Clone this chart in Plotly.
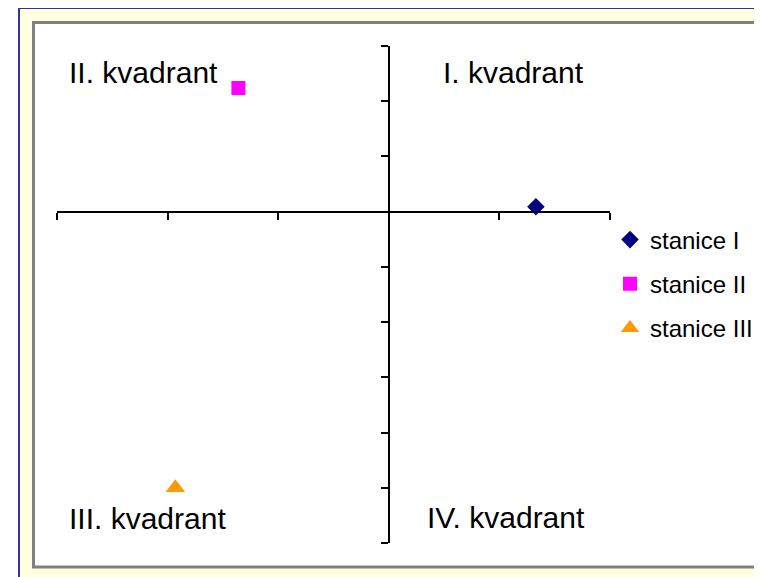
import plotly.graph_objects as go

# ---- data ----
series_names = ["stanice I", "stanice II", "stanice III"]
x_values = [1.33, -1.36, -1.93]
y_values = [0.09, 2.24, -5.0]
marker_symbols = ["diamond", "square", "triangle-up"]
marker_colors = ["#000080", "#FF00FF", "#FF9900"]
marker_sizes = [13.5, 14, 17]

quadrant_labels = ["I. kvadrant", "II. kvadrant", "III. kvadrant", "IV. kvadrant"]

x_range = [-3, 2]
y_range = [-6, 3]

# page is shown with an 8px body margin
OFF = 8
W, H = 762 - OFF, 577 - OFF
ML, MT = 57 - OFF, 46 - OFF
MR = W - (610 - OFF)
MB = H - (543 - OFF)
PW = W - ML - MR
PH = H - MT - MB


def px_x(p):  # page pixel -> paper fraction
    return (p - OFF - ML) / PW


def px_y(p):
    return (MT + PH - (p - OFF)) / PH


fig = go.Figure()
for i, name in enumerate(series_names):
    fig.add_trace(go.Scatter(
        x=[x_values[i]], y=[y_values[i]], mode="markers", name=name,
        legendgroup=name,
        marker=dict(symbol=marker_symbols[i], color=marker_colors[i],
                    size=marker_sizes[i], line=dict(width=0)),
    ))

shapes = [
    dict(type="rect", xref="paper", yref="paper", layer="below",
         x0=px_x(19), x1=px_x(800), y0=px_y(8), y1=px_y(600),
         line=dict(color="#333399", width=2), fillcolor="#FFFFE1"),
    dict(type="rect", xref="paper", yref="paper", layer="below",
         x0=px_x(33.5), x1=px_x(800), y0=px_y(22.5), y1=px_y(567),
         line=dict(color="#808080", width=3), fillcolor="#FFFFFF"),
]

label_pos = [(0.47, 2.52), (-2.91, 2.52), (-2.91, -5.56), (0.325, -5.54)]
annotations = []
for lab, (ax_, ay_) in zip(quadrant_labels, label_pos):
    annotations.append(dict(
        text=lab, x=ax_, y=ay_, xref="x", yref="y", showarrow=False,
        xanchor="left", yanchor="middle",
        font=dict(family="Liberation Sans, Arial, sans-serif", size=30, color="#000000"),
    ))

axis_common = dict(showgrid=False, zeroline=False, showline=True,
                   linecolor="#000000", linewidth=2, ticks="outside",
                   ticklen=7, tickwidth=2, tickcolor="#000000",
                   showticklabels=False, dtick=1, fixedrange=True)

fig.update_layout(
    width=W, height=H,
    margin=dict(l=ML, r=MR, t=MT, b=MB, autoexpand=False),
    paper_bgcolor="#FFFFFF",
    plot_bgcolor="rgba(0,0,0,0)",
    xaxis=dict(range=x_range, anchor="free",
               position=(0 - y_range[0]) / (y_range[1] - y_range[0]),
               side="bottom", **axis_common),
    yaxis=dict(range=y_range, anchor="free",
               position=(0 - x_range[0]) / (x_range[1] - x_range[0]),
               side="left", **axis_common),
    shapes=shapes,
    annotations=annotations,
    showlegend=True,
    legend=dict(x=1.0, xanchor="left", y=px_y(284), yanchor="middle",
                bgcolor="rgba(0,0,0,0)", borderwidth=0,
                tracegroupgap=10,
                font=dict(family="Liberation Sans, Arial, sans-serif", size=24, color="#000000")),
)

fig.write_html("out.html")
